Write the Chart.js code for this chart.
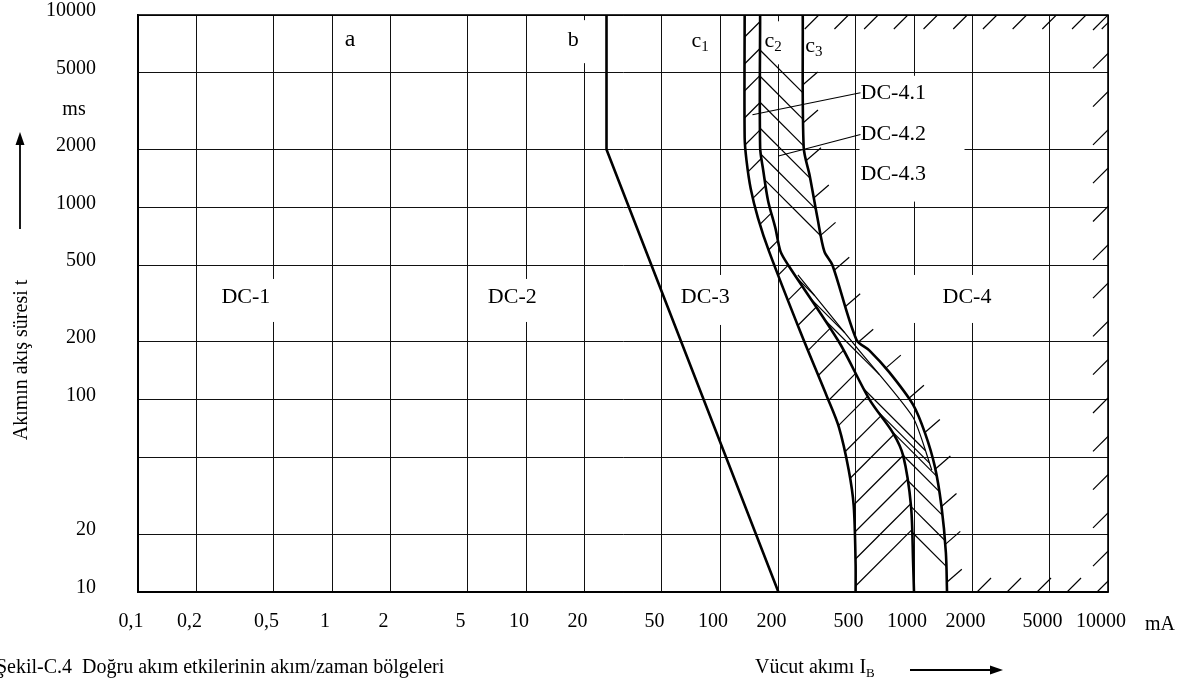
<!DOCTYPE html>
<html>
<head>
<meta charset="utf-8">
<script src="https://cdn.jsdelivr.net/npm/chart.js@4"></script>
<style>
  html, body { margin: 0; padding: 0; background: #fff; }
  canvas { display: block; }
</style>
</head>
<body>
<canvas id="chart" width="1201" height="688"></canvas>
<script>
const FONT = '"Liberation Serif", "Times New Roman", serif'

// axis ticks
const xTicks = [0.1, 0.2, 0.5, 1, 2, 5, 10, 20, 50, 100, 200, 500, 1000, 2000, 5000, 10000]
const xTickLabels = ['0,1', '0,2', '0,5', '1', '2', '5', '10', '20', '50', '100', '200', '500', '1000', '2000', '5000', '10000']
const yTicks = [10, 20, 50, 100, 200, 500, 1000, 2000, 5000, 10000]
const yTickLabels = ['10', '20', '', '100', '200', '500', '1000', '2000', '5000', '10000']

// boundary curves [mA, ms]
const curveB = [[26, 10000], [26, 2000], [200, 10]]
const curveC1 = [[134, 10000], [134, 2300], [137, 1750], [144, 1250], [157, 880], [179, 590], [261, 222], [357, 103], [410, 72], [461, 43], [489, 28], [500, 14], [500, 10]]
const curveC2 = [[161, 10000], [161, 2050], [167, 1560], [177, 1080], [193, 780], [205, 590], [225, 500], [410, 200], [590, 100], [780, 67], [880, 51], [965, 28], [990, 14], [1000, 10]]
const curveC3 = [[267, 10000], [270, 2050], [290, 1460], [318, 880], [345, 590], [380, 500], [505, 205], [590, 180], [745, 139], [990, 94], [1140, 67], [1280, 45], [1385, 28], [1460, 16], [1480, 10]]
// thin dividing line inside DC-4.2
const lineC23 = [[252, 445], [506, 187], [988, 81], [1236, 43]]

// zone / curve labels: text, subscript, anchor [mA, ms], white box around anchor (px)
const labels = [
  { text: 'a', at: [1.24, 7400], size: 24 },
  { text: 'b', at: [17.5, 7400], size: 22, box: [-15, -20, 17, 23] },
  { text: 'c', sub: '1', at: [79, 7300], size: 22, box: [-18, -20, 17, 23] },
  { text: 'c', sub: '2', at: [188, 7300], size: 22, box: [-9, -20, 12, 23] },
  { text: 'c', sub: '3', at: [305, 6900], size: 22 },
  { text: 'DC-1', at: [0.36, 342], size: 22, box: [-31, -18, 39, 25] },
  { text: 'DC-2', at: [8.5, 342], size: 22, box: [-31, -18, 31, 25] },
  { text: 'DC-3', at: [84, 342], size: 22, box: [-30, -22, 30, 28] },
  { text: 'DC-4', at: [1875, 342], size: 22, box: [-67, -22, 33, 26] }
]
const subLabels = ['DC-4.1', 'DC-4.2', 'DC-4.3']
const subLabelAt = [[530, 3940], [530, 2390], [530, 1480]]
const leaderTo = [[147, 3030], [200, 1850], null]

const toXY = arr => arr.map(([x, y]) => ({ x, y }))

function curve(data, tension, width) {
  return {
    data: toXY(data),
    showLine: true,
    borderColor: '#000',
    borderWidth: width,
    pointRadius: 0,
    tension,
    fill: false
  }
}

function drawText(ctx, text, sub, x, y, size, align) {
  ctx.font = `${size}px ${FONT}`
  const w = ctx.measureText(text).width
  let sw = 0
  if (sub) {
    ctx.font = `${Math.round(size * 0.68)}px ${FONT}`
    sw = ctx.measureText(sub).width
  }
  let x0 = x
  if (align === 'center') x0 = x - (w + sw) / 2
  ctx.textAlign = 'left'
  ctx.textBaseline = 'middle'
  ctx.font = `${size}px ${FONT}`
  ctx.fillText(text, x0, y)
  if (sub) {
    ctx.font = `${Math.round(size * 0.68)}px ${FONT}`
    ctx.fillText(sub, x0 + w, y + size * 0.28)
  }
}

// bezier-sampled pixel path of a dataset
function pixelPath(meta) {
  const pts = meta.data, out = []
  for (let i = 0; i < pts.length - 1; i++) {
    const a = pts[i], b = pts[i + 1]
    const ax = a.cp2x ?? a.x, ay = a.cp2y ?? a.y, bx = b.cp1x ?? b.x, by = b.cp1y ?? b.y
    for (let k = 0; k < 16; k++) {
      const t = k / 16, u = 1 - t
      out.push([
        u * u * u * a.x + 3 * u * u * t * ax + 3 * u * t * t * bx + t * t * t * b.x,
        u * u * u * a.y + 3 * u * u * t * ay + 3 * u * t * t * by + t * t * t * b.y
      ])
    }
  }
  const l = pts[pts.length - 1]
  out.push([l.x, l.y])
  return out
}

function cast(path, x, y, dx, dy, maxT) {
  let best = null
  for (let i = 0; i < path.length - 1; i++) {
    const [x1, y1] = path[i], [x2, y2] = path[i + 1]
    const ex = x2 - x1, ey = y2 - y1
    const den = ex * dy - dx * ey
    if (Math.abs(den) < 1e-9) continue
    const t = (ex * (y1 - y) - ey * (x1 - x)) / den
    const s = (dx * (y1 - y) - dy * (x1 - x)) / den
    if (t > 0.5 && t <= maxT && s >= 0 && s <= 1 && (best === null || t < best)) best = t
  }
  return best
}

function walk(path, step, offset) {
  const res = []
  let acc = 0, next = offset
  for (let i = 0; i < path.length - 1; i++) {
    const [x1, y1] = path[i], [x2, y2] = path[i + 1]
    const L = Math.hypot(x2 - x1, y2 - y1)
    while (L > 0 && next <= acc + L) {
      const f = (next - acc) / L
      res.push([x1 + f * (x2 - x1), y1 + f * (y2 - y1)])
      next += step
    }
    acc += L
  }
  return res
}

function seg(ctx, x1, y1, x2, y2) {
  ctx.beginPath()
  ctx.moveTo(x1, y1)
  ctx.lineTo(x2, y2)
  ctx.stroke()
}

const labelBoxes = {
  id: 'labelBoxes',
  beforeDatasetsDraw(chart) {
    const { ctx, scales: { x, y } } = chart
    ctx.save()
    ctx.fillStyle = '#000'
    for (const l of labels) {
      const px = x.getPixelForValue(l.at[0]), py = y.getPixelForValue(l.at[1])
      if (l.box) {
        ctx.fillStyle = '#fff'
        ctx.fillRect(px + l.box[0], py + l.box[1], l.box[2] - l.box[0], l.box[3] - l.box[1])
        ctx.fillStyle = '#000'
      }
      drawText(ctx, l.text, l.sub, px, py, l.size, 'center')
    }
    // DC-4.x block
    const bx = x.getPixelForValue(subLabelAt[0][0])
    const by0 = y.getPixelForValue(subLabelAt[0][1]), by1 = y.getPixelForValue(subLabelAt[2][1])
    ctx.fillStyle = '#fff'
    ctx.fillRect(bx - 1, by0 - 17, 105, by1 - by0 + 44)
    ctx.fillStyle = '#000'
    ctx.strokeStyle = '#000'
    ctx.lineWidth = 1.1
    subLabels.forEach((t, i) => {
      const px = x.getPixelForValue(subLabelAt[i][0]), py = y.getPixelForValue(subLabelAt[i][1])
      drawText(ctx, t, null, px, py, 22, 'left')
      if (leaderTo[i]) {
        seg(ctx, px, py, x.getPixelForValue(leaderTo[i][0]), y.getPixelForValue(leaderTo[i][1]))
      }
    })
    ctx.restore()
  }
}

const hatch = {
  id: 'hatch',
  afterDatasetsDraw(chart) {
    const { ctx, chartArea: a } = chart
    const c1 = pixelPath(chart.getDatasetMeta(1))
    const c2 = pixelPath(chart.getDatasetMeta(2))
    const c3 = pixelPath(chart.getDatasetMeta(3))
    const mid = pixelPath(chart.getDatasetMeta(4))
    const r = Math.SQRT1_2
    ctx.save()
    ctx.beginPath()
    ctx.rect(a.left, a.top, a.right - a.left, a.bottom - a.top)
    ctx.clip()
    ctx.strokeStyle = '#000'
    ctx.lineWidth = 1.2
    // DC-4.1: '/' between c1 and c2
    for (const [px, py] of walk(c1, 27, 22)) {
      const t = cast(c2, px, py, r, -r, 140)
      if (t) seg(ctx, px, py, px + r * t, py - r * t)
    }
    // DC-4.2: '\' between c2 and c3 (or the thin line)
    for (const [px, py] of walk(c2, 26, 35)) {
      const t3 = cast(c3, px, py, r, r, 90)
      const tm = cast(mid, px, py, r, r, 90)
      const t = tm !== null && (t3 === null || tm < t3) ? tm : t3
      if (t) seg(ctx, px, py, px + r * t, py + r * t)
    }
    // DC-4.3 ticks along c3
    for (const [px, py] of walk(c3, 38, 70)) seg(ctx, px, py, px + 15, py - 13)
    // DC-4 ticks along the frame
    const topX = c3[0][0]
    for (let px = topX + 2; px < a.right - 4; px += 29.7) seg(ctx, px, a.top + 14, px + 14, a.top)
    for (let py = a.top; py < a.bottom - 4; py += 38.3) seg(ctx, a.right - 15, py + 15, a.right, py)
    const botX = c3[c3.length - 1][0]
    for (let px = botX + 30; px < a.right - 4; px += 30) seg(ctx, px, a.bottom, px + 14, a.bottom - 14)
    ctx.restore()
  }
}

const decor = {
  id: 'decor',
  afterDraw(chart) {
    const { ctx, chartArea: a } = chart
    ctx.save()
    ctx.fillStyle = '#000'
    ctx.strokeStyle = '#000'
    // frame
    ctx.lineWidth = 1.6
    ctx.strokeRect(a.left, a.top, a.right - a.left, a.bottom - a.top)
    drawText(ctx, 'ms', null, 74, 110, 20, 'center')
    drawText(ctx, 'mA', null, a.right + 52, 625, 20, 'center')
    // y title + arrow
    ctx.save()
    ctx.translate(22, 360)
    ctx.rotate(-Math.PI / 2)
    drawText(ctx, 'Akımın akış süresi t', null, 0, 0, 20, 'center')
    ctx.restore()
    ctx.lineWidth = 1.8
    seg(ctx, 20, 229, 20, 142)
    ctx.beginPath()
    ctx.moveTo(20, 132); ctx.lineTo(15.5, 145); ctx.lineTo(24.5, 145); ctx.closePath(); ctx.fill()
    // caption + x title
    drawText(ctx, 'Şekil-C.4  Doğru akım etkilerinin akım/zaman bölgeleri', null, -4, 668, 20, 'left')
    drawText(ctx, 'Vücut akımı I', null, 755, 668, 20, 'left')
    ctx.font = `20px ${FONT}`
    const w = ctx.measureText('Vücut akımı I').width
    drawText(ctx, 'B', null, 755 + w, 674, 13, 'left')
    seg(ctx, 910, 670, 992, 670)
    ctx.beginPath()
    ctx.moveTo(1003, 670); ctx.lineTo(990, 665.5); ctx.lineTo(990, 674.5); ctx.closePath(); ctx.fill()
    ctx.restore()
  }
}

new Chart(document.getElementById('chart'), {
  type: 'scatter',
  data: {
    datasets: [
      curve(curveB, 0, 2.6),
      curve(curveC1, 0.3, 2.6),
      curve(curveC2, 0.3, 2.6),
      curve(curveC3, 0.3, 2.6),
      curve(lineC23, 0.2, 1.2)
    ]
  },
  options: {
    responsive: false,
    animation: false,
    events: [],
    layout: { padding: { left: 0, top: 15, right: 93, bottom: 0 } },
    plugins: { legend: { display: false }, tooltip: { enabled: false } },
    scales: {
      x: {
        type: 'logarithmic',
        min: 0.1,
        max: 10000,
        afterBuildTicks: s => { s.ticks = xTicks.map(value => ({ value })) },
        afterFit: s => { s.height = 96 },
        grid: { color: '#111', lineWidth: 1, drawTicks: true, tickLength: 18, tickColor: 'rgba(0,0,0,0)' },
        border: { color: '#000', width: 1.6 },
        ticks: {
          autoSkip: false,
          maxRotation: 0,
          padding: 0,
          labelOffset: -7,
          color: '#000',
          font: { family: FONT, size: 20 },
          callback: (v, i) => xTickLabels[i]
        }
      },
      y: {
        type: 'logarithmic',
        min: 10,
        max: 10000,
        afterBuildTicks: s => { s.ticks = yTicks.map(value => ({ value })) },
        afterFit: s => { s.width = 138 },
        grid: { color: '#111', lineWidth: 1, drawTicks: true, tickLength: 42, tickColor: 'rgba(0,0,0,0)' },
        border: { color: '#000', width: 1.6 },
        ticks: {
          autoSkip: false,
          padding: 0,
          labelOffset: -4,
          color: '#000',
          font: { family: FONT, size: 20 },
          callback: (v, i) => yTickLabels[i]
        }
      }
    }
  },
  plugins: [labelBoxes, hatch, decor]
})
</script>
</body>
</html>
